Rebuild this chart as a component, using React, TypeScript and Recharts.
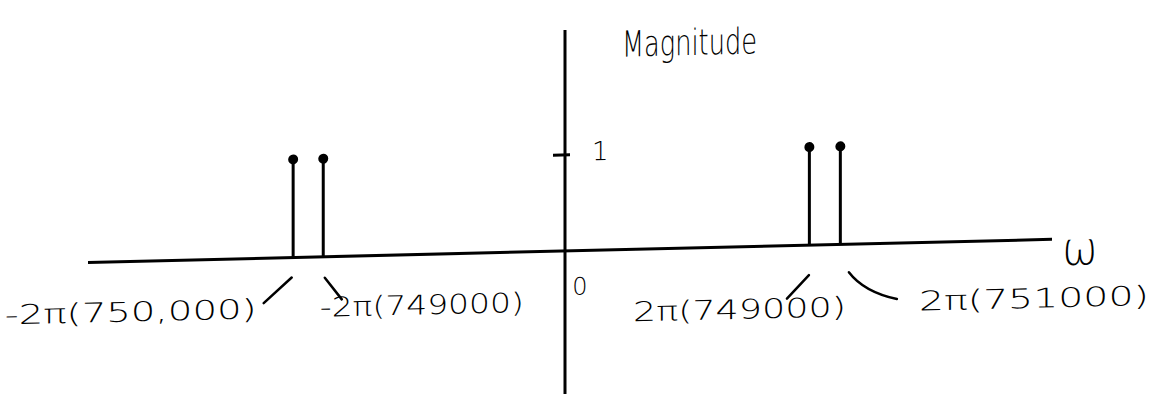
import React from 'react';
import { BarChart, Bar, XAxis, YAxis, ReferenceLine, ReferenceDot } from 'recharts';

// Spectral lines: position on the ω axis (given as f, drawn as 2π·f) and magnitude
const lineFreqs = [-750000, -749000, 749000, 751000];
const lineMagnitudes = [1, 1, 1, 1];
const tickLabels = ['-2π(750,000)', '-2π(749000)', '2π(749000)', '2π(751000)'];
const magnitudeTicks = [1];

const data = lineFreqs.map((f, i) => ({ f, mag: lineMagnitudes[i] }));

// The ω axis is a sketch, not to scale: the stretch around 0 is squeezed
// so both pairs of lines stay readable. weight = share of the axis length.
const AXIS_SEGMENTS = [
  { from: -756800, to: -747000, weight: 295 },
  { from: -747000, to: 0, weight: 182 },
  { from: 0, to: 745000, weight: 182 },
  { from: 745000, to: 764700, weight: 305 },
];
const X_DOMAIN = [AXIS_SEGMENTS[0].from, AXIS_SEGMENTS[AXIS_SEGMENTS.length - 1].to];
const Y_DOMAIN = [0, 2.3];
const Y_BOTTOM = -1.49;

const INK = '#000';
const FONT = "'DejaVu Sans', sans-serif";

// piecewise linear scale with the d3 scale interface recharts expects
function brokenScale(segs: typeof AXIS_SEGMENTS, dom?: number[], rng?: number[]): any {
  let domain = dom ? dom.slice() : X_DOMAIN.slice();
  let range = rng ? rng.slice() : [0, 1];
  const total = segs.reduce((s, g) => s + g.weight, 0);
  const scale: any = (v: number) => {
    const [r0, r1] = range;
    let acc = 0;
    for (let i = 0; i < segs.length; i++) {
      const g = segs[i];
      if (v <= g.to || i === segs.length - 1) {
        const t = acc + ((v - g.from) / (g.to - g.from)) * g.weight;
        return r0 + (t / total) * (r1 - r0);
      }
      acc += g.weight;
    }
    return r0;
  };
  scale.domain = (d?: number[]) => {
    if (d === undefined) return domain.slice();
    domain = d.slice();
    return scale;
  };
  scale.range = (r?: number[]) => {
    if (r === undefined) return range.slice();
    range = r.slice();
    return scale;
  };
  scale.copy = () => brokenScale(segs, domain, range);
  scale.ticks = () => lineFreqs.slice();
  return scale;
}

// leader stroke + label under each line, offsets from the tick point
const TICK_DECOR = [
  { stroke: 'M -1 20 L -29 45', dx: -288, dy: 60, len: 252 },
  { stroke: 'M 2 21 L 19 43', dx: -3, dy: 60, len: 204 },
  { stroke: 'M 0 30 L -22 53', dx: -176, dy: 72, len: 213 },
  { stroke: 'M 9 28 Q 24 48 57 56', dx: 79, dy: 68, len: 230 },
];

const StemTick = (props: any) => {
  const { x, y, index } = props;
  const d = TICK_DECOR[index];
  if (!d) return null;
  return (
    <g transform={`translate(${x},${y})`}>
      <path d={d.stroke} fill="none" stroke={INK} strokeWidth={2.5} strokeLinecap="round" />
      <text
        x={d.dx}
        y={d.dy}
        fontSize={27}
        fontFamily={FONT}
        fontWeight={300}
        fill={INK}
        textLength={d.len}
        lengthAdjust="spacingAndGlyphs"
      >
        {tickLabels[index]}
      </text>
    </g>
  );
};

// stem with a filled dot on top
const Stem = (props: any) => {
  const { x, y, width, height } = props;
  const cx = x + width / 2;
  return (
    <g>
      <line x1={cx} y1={y + height} x2={cx} y2={y} stroke={INK} strokeWidth={3} />
      <circle cx={cx} cy={y - 2} r={5} fill={INK} />
    </g>
  );
};

export default function App() {
  const xScale = React.useMemo(() => brokenScale(AXIS_SEGMENTS), []);
  return (
    <>
      <style>{'body{margin:0;background:#fff;overflow:hidden}'}</style>
      <div
        style={{
          width: 1152,
          height: 394,
          transform: 'skewY(-1.37deg)',
          transformOrigin: '565px 251px',
        }}
      >
        <BarChart width={1152} height={394} data={data} margin={{ top: 30, right: 100, left: 88, bottom: 0 }}>
          <XAxis
            type="number"
            dataKey="f"
            scale={xScale}
            domain={X_DOMAIN}
            ticks={lineFreqs}
            interval={0}
            height={143}
            tickSize={0}
            tickMargin={0}
            tickLine={false}
            tick={<StemTick />}
            axisLine={{ stroke: INK, strokeWidth: 3 }}
            allowDataOverflow
          />
          <YAxis type="number" domain={Y_DOMAIN} hide allowDataOverflow />
          <ReferenceLine
            segment={[
              { x: 0, y: Y_BOTTOM },
              { x: 0, y: Y_DOMAIN[1] },
            ]}
            ifOverflow="visible"
            stroke={INK}
            strokeWidth={3}
          />
          <Bar dataKey="mag" barSize={3} shape={<Stem />} isAnimationActive={false} />
          {magnitudeTicks.map((m) => (
            <ReferenceDot
              key={m}
              x={0}
              y={m}
              r={0}
              shape={(p: any) => (
                <g>
                  <line x1={p.cx - 12} y1={p.cy} x2={p.cx + 5} y2={p.cy} stroke={INK} strokeWidth={3} />
                  <text x={p.cx + 27} y={p.cy + 6} fontSize={26} fontFamily={FONT} fontWeight={300} fill={INK}>
                    {m}
                  </text>
                </g>
              )}
            />
          ))}
          <ReferenceDot
            x={0}
            y={0}
            r={0}
            shape={(p: any) => (
              <text x={p.cx + 15} y={p.cy + 44} fontSize={24} fontFamily={FONT} fontWeight={300} fill={INK} textAnchor="middle">
                0
              </text>
            )}
          />
          <ReferenceDot
            x={0}
            y={Y_DOMAIN[1]}
            r={0}
            shape={(p: any) => (
              <text
                x={p.cx + 57}
                y={p.cy + 28}
                fontSize={36}
                fontFamily={FONT}
                fontWeight={300}
                fill={INK}
                textLength={135}
                lengthAdjust="spacingAndGlyphs"
              >
                Magnitude
              </text>
            )}
          />
          <ReferenceDot
            x={X_DOMAIN[1]}
            y={0}
            r={0}
            shape={(p: any) => (
              <text
                x={p.cx + 10}
                y={p.cy + 26}
                fontSize={46}
                fontFamily={FONT}
                fontWeight={300}
                fill={INK}
                textLength={36}
                lengthAdjust="spacingAndGlyphs"
              >
                ω
              </text>
            )}
          />
        </BarChart>
      </div>
    </>
  );
}
